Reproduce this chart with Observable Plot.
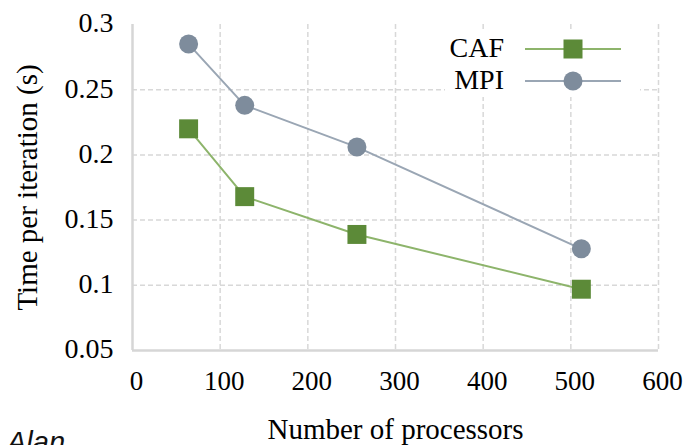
<!DOCTYPE html>
<html>
<head>
<meta charset="utf-8">
<script src="https://cdn.jsdelivr.net/npm/d3@7"></script>
<script src="https://cdn.jsdelivr.net/npm/@observablehq/plot@0.6"></script>
<style>
  html, body { margin: 0; padding: 0; background: #fff; }
  #wrap { position: relative; width: 686px; height: 445px; overflow: hidden; }
  #author {
    position: absolute; left: 7px; top: 428px;
    font: italic 29px "Liberation Sans", Arial, sans-serif;
    line-height: 1; color: #111;
  }
</style>
</head>
<body>
<div id="wrap">
  <div id="chart"></div>
  <div id="author">Alan</div>
</div>
<script>
// Time per iteration versus processor count
const processors = [64, 128, 256, 512];
const cafTime = [0.22, 0.168, 0.139, 0.097];
const mpiTime = [0.285, 0.238, 0.206, 0.128];

const seriesNames = ["CAF", "MPI"];
const lineColors = ["#8db46b", "#9aa6b4"];
const markerColors = ["#5c8a38", "#7e8c9c"];

const xTicks = [0, 100, 200, 300, 400, 500, 600];
const xTickLabels = ["0", "100", "200", "300", "400", "500", "600"];
const yTicks = [0.05, 0.1, 0.15, 0.2, 0.25, 0.3];
const yTickLabels = ["0.05", "0.1", "0.15", "0.2", "0.25", "0.3"];

const xLabel = "Number of processors";
const yLabel = "Time per iteration (s)";

const cafRows = processors.map((p, i) => ({p, t: cafTime[i]}));
const mpiRows = processors.map((p, i) => ({p, t: mpiTime[i]}));

const serif = '"Liberation Serif", "Times New Roman", serif';
const gridStyle = {stroke: "#d8d8d8", strokeOpacity: 1, strokeWidth: 1.5, strokeDasharray: "5,3"};
const axisLine = {stroke: "#d6d6d6", strokeOpacity: 1, strokeWidth: 2.5};

const chart = Plot.plot({
  width: 686,
  height: 445,
  marginLeft: 132,
  marginRight: 28,
  marginTop: 24,
  marginBottom: 95,
  style: {fontFamily: serif, background: "#fff", color: "#000"},
  x: {domain: [xTicks[0], xTicks[xTicks.length - 1]]},
  y: {domain: [yTicks[0], yTicks[yTicks.length - 1]]},
  marks: [
    Plot.gridX(xTicks.slice(1), gridStyle),
    Plot.gridY(yTicks.slice(1, -1), gridStyle),
    Plot.ruleX([xTicks[0]], axisLine),
    Plot.ruleY([yTicks[0]], axisLine),
    Plot.axisX({
      ticks: xTicks,
      tickFormat: d => xTickLabels[xTicks.indexOf(d)],
      tickSize: 0, tickPadding: 20, fontSize: 27, dx: 4, label: null
    }),
    Plot.axisY({
      ticks: yTicks,
      tickFormat: d => yTickLabels[yTicks.indexOf(d)],
      tickSize: 0, tickPadding: 19, fontSize: 28, dy: -1, label: null
    }),
    Plot.text([xLabel], {
      text: d => d, frameAnchor: "bottom", textAnchor: "middle", lineAnchor: "middle",
      dy: 79, fontSize: 29
    }),
    Plot.text([yLabel], {
      text: d => d, frameAnchor: "left", textAnchor: "middle", lineAnchor: "middle",
      dx: -105, rotate: -90, fontSize: 29
    }),
    Plot.line(cafRows, {x: "p", y: "t", stroke: lineColors[0], strokeWidth: 2}),
    Plot.line(mpiRows, {x: "p", y: "t", stroke: lineColors[1], strokeWidth: 2}),
    Plot.dot(cafRows, {x: "p", y: "t", symbol: "square", r: 10.7, fill: markerColors[0], stroke: null}),
    Plot.dot(mpiRows, {x: "p", y: "t", symbol: "circle", r: 9.5, fill: markerColors[1], stroke: null})
  ]
});

document.getElementById("chart").appendChild(chart);

// Legend in the upper-right corner of the plotting area
const svg = d3.select(chart);
const legend = svg.append("g").attr("font-family", serif);
legend.append("rect")
  .attr("x", 445).attr("y", 31).attr("width", 195).attr("height", 66)
  .attr("fill", "#fff");
const rowY = [49, 81];
seriesNames.forEach((name, i) => {
  const y = rowY[i];
  legend.append("line")
    .attr("x1", 525).attr("x2", 621).attr("y1", y).attr("y2", y)
    .attr("stroke", lineColors[i]).attr("stroke-width", 2);
  if (i === 0) {
    legend.append("rect")
      .attr("x", 573 - 9.5).attr("y", y - 9.5).attr("width", 19).attr("height", 19)
      .attr("fill", markerColors[i]);
  } else {
    legend.append("circle")
      .attr("cx", 573).attr("cy", y).attr("r", 9.5)
      .attr("fill", markerColors[i]);
  }
  legend.append("text")
    .attr("x", 504).attr("y", y + 8).attr("text-anchor", "end")
    .attr("font-size", 28).attr("fill", "#000")
    .text(name);
});
</script>
</body>
</html>
